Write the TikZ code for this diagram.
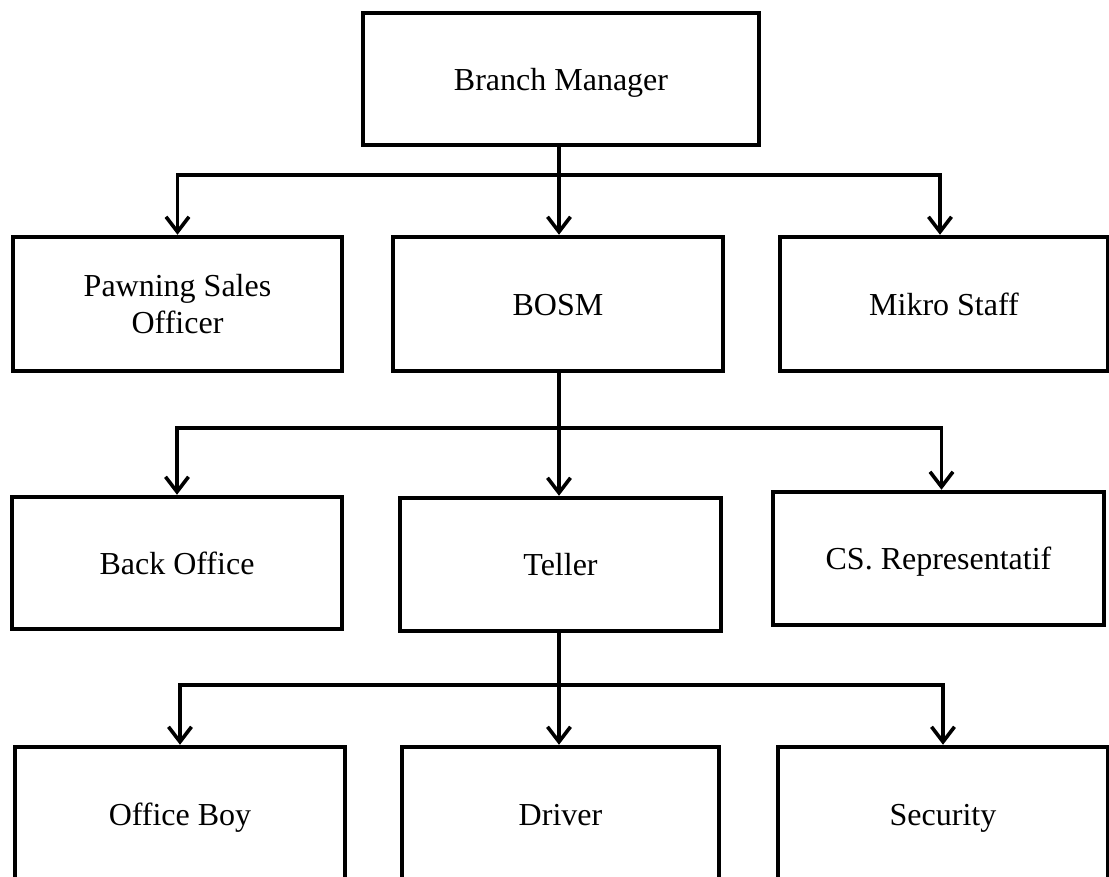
\documentclass[tikz,border=0pt]{standalone}
\usepackage{fontspec}
\setmainfont{Liberation Serif}
\usetikzlibrary{arrows.meta}
\begin{document}
\begin{tikzpicture}[x=1pt,y=-1pt,
  box/.style={draw=black, line width=4.5pt, fill=white, inner sep=0pt, align=center,
    font=\fontsize{32}{37}\selectfont, text height=22pt, text depth=0pt},
  twoline/.style={text height=, text depth=},
  conn/.style={draw=black, line width=3.6pt},
  arr/.style={conn, -{Straight Barb[length=15pt,width=23pt]}}]
\useasboundingbox (0,0) rectangle (1109,876);
\fill[white] (0,0) rectangle (1109,876);
% nodes
\node[box, minimum width=396pt, minimum height=132pt] (bm) at (561,79) {Branch Manager};
\node[box, twoline, minimum width=329pt, minimum height=134pt] (pso) at (177.5,304) {Pawning Sales\\Officer};
\node[box, minimum width=330pt, minimum height=134pt] (bosm) at (558,304) {BOSM};
\node[box, minimum width=328pt, minimum height=134pt] (mikro) at (944,304) {Mikro Staff};
\node[box, minimum width=330pt, minimum height=132pt] (back) at (177,563) {Back Office};
\node[box, minimum width=321pt, minimum height=133pt] (teller) at (560.5,564.5) {Teller};
\node[box, minimum width=331pt, minimum height=133pt] (cs) at (938.5,558.5) {CS. Representatif};
\node[box, minimum width=330pt, minimum height=134pt] (ob) at (180,814) {Office Boy};
\node[box, minimum width=317pt, minimum height=134pt] (driver) at (560.5,814) {Driver};
\node[box, minimum width=330pt, minimum height=134pt] (sec) at (943,814) {Security};
% junctions
\coordinate (j1) at (559,175);
\coordinate (j2) at (559,428);
\coordinate (j3) at (559,685);
% connectors
\draw[conn] (bm.south -| j1) -- (j1);
\draw[arr] (j1) -| (pso.north);
\draw[arr] (j1) -- (bosm.north -| j1);
\draw[arr] (j1) -| ([xshift=-4pt]mikro.north);
\draw[conn] (bosm.south -| j2) -- (j2);
\draw[arr] (j2) -| (back.north);
\draw[arr] (j2) -- (teller.north -| j2);
\draw[arr] (j2) -| ([xshift=3pt]cs.north);
\draw[conn] (teller.south -| j3) -- (j3);
\draw[arr] (j3) -| (ob.north);
\draw[arr] (j3) -- (driver.north -| j3);
\draw[arr] (j3) -| (sec.north);
\end{tikzpicture}
\end{document}
